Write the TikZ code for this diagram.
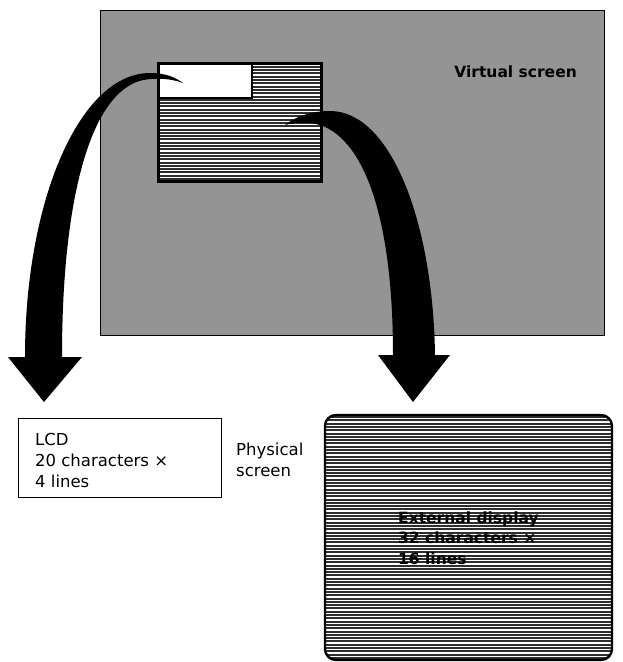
\documentclass[tikz,border=0pt]{standalone}
\usepackage{fontspec}
\setmainfont{DejaVu Sans}
\usetikzlibrary{positioning}

\tikzset{
  screenbox/.style={draw, inner sep=0pt, anchor=north west},
  labeltext/.style={font=\fontsize{16.5}{21}\selectfont, align=left, inner sep=0pt},
  rasterline/.style={line width=2pt, black!82},
  bigarrow/.style={fill=black},
}

\begin{document}
\begin{tikzpicture}[x=1pt,y=-1pt]
        \useasboundingbox (0,0) rectangle (622,662);

        % virtual screen
        \node[screenbox, line width=1pt, fill=black!42, minimum width=504pt, minimum height=325pt] (vscreen) at (100,10) {};
        \node[labeltext, font=\fontsize{15.5}{19}\bfseries, anchor=east] (vlabel) at (577,72) {Virtual screen};

        % window onto the virtual screen
        \begin{scope}
            \clip (157,62) rectangle (320,180);
            \fill[white] (157,62) rectangle (320,180);
            \foreach \y in {63.5,66.8,...,180} \draw[rasterline] (157,\y) -- (320,\y);
        \end{scope}
        \node[screenbox, line width=1.8pt, fill=white, minimum width=94pt, minimum height=35pt] (lcdarea) at (157,62) {};
        \node[screenbox, line width=2.6pt, minimum width=163pt, minimum height=118pt] (window) at (157,62) {};

        % physical screens
        \node[screenbox, line width=1.4pt, minimum width=203pt, minimum height=79pt] (lcd) at (18,418) {};
        \node[labeltext, anchor=west] (lcdlabel) at (35,460) {LCD\\20 characters ×\\4 lines};
        \node[labeltext, anchor=west] (physlabel) at (236,460) {Physical\\screen};

        \begin{scope}
            \clip[rounded corners=11pt] (325,415) rectangle (612,660);
            \fill[white] (325,415) rectangle (612,660);
            \foreach \y in {417,420.3,...,660} \draw[rasterline] (325,\y) -- (612,\y);
        \end{scope}
        \draw[line width=2.4pt, rounded corners=11pt] (325,415) rectangle (612,660);
        \node[screenbox, draw=none, minimum width=287pt, minimum height=245pt] (ext) at (325,415) {};
        \node[labeltext, font=\fontsize{15.5}{20.5}\bfseries, anchor=west] (extlabel) at (398,538) {External display\\32 characters ×\\16 lines};

        % arrows
        \coordinate (lcdtail) at (183,83);
        \coordinate (lcdtip) at (44,402);
        \coordinate (exttail) at (285,125);
        \coordinate (exttip) at (413,402);

        \fill[bigarrow] (lcdtail) .. controls (175,77) and (165,73) .. (150,73)
            .. controls (80,73) and (25,200) .. (25,357) -- (8,357) -- (lcdtip) -- (82,357) -- (62,357)
            .. controls (62,200) and (90,92) .. (143,80)
            .. controls (155,78) and (170,78) .. (lcdtail) -- cycle;
        \fill[bigarrow] (exttail) .. controls (295,117) and (310,111) .. (330,111)
            .. controls (390,111) and (433,220) .. (435,355) -- (450,355) -- (exttip) -- (378,355) -- (393,355)
            .. controls (393,220) and (365,140) .. (320,125)
            .. controls (310,122) and (295,122) .. (exttail) -- cycle;
\end{tikzpicture}
\end{document}
